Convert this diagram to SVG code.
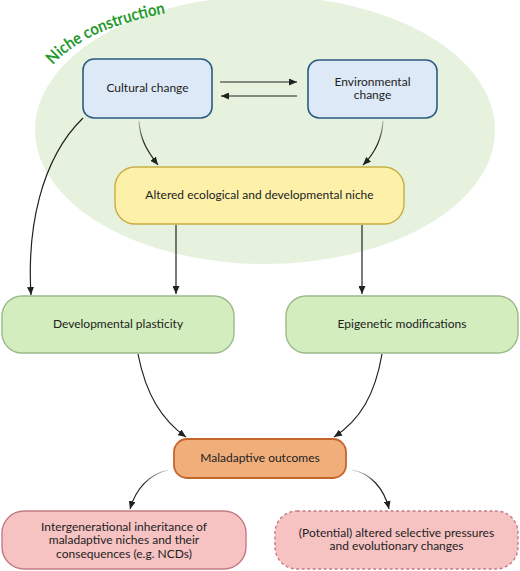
<svg xmlns="http://www.w3.org/2000/svg" width="520" height="571" viewBox="0 0 520 571">
<style>
text{font-family:Lato,"Open Sans","Liberation Sans",sans-serif;font-size:12px;fill:#222;text-anchor:middle}
.con{fill:none;stroke:#222;stroke-width:1.2}
.blue{fill:#dde9f7;stroke:#2d5b82;stroke-width:1.6}
.yel{fill:#fdf1aa;stroke:#c7ae44;stroke-width:1.4}
.grn{fill:#d3edbe;stroke:#9bb98a;stroke-width:1.4}
.org{fill:#f0ae7b;stroke:#c5652b;stroke-width:1.8}
.pnk{fill:#f7c2c2;stroke:#c27d83;stroke-width:1.4}
</style>
<defs>
<marker id="ah" viewBox="0 0 8 7" markerWidth="8" markerHeight="7" refX="8" refY="3.5" orient="auto" markerUnits="userSpaceOnUse">
<path d="M0,0 L8,3.5 L0,7 z" fill="#222"/>
</marker>
<linearGradient id="fadeL" x1="1" y1="0" x2="0" y2="1"><stop offset="0" stop-color="#ddd"/><stop offset="0.5" stop-color="#222"/></linearGradient>
<linearGradient id="fadeR" x1="0" y1="0" x2="1" y2="1"><stop offset="0" stop-color="#ddd"/><stop offset="0.5" stop-color="#222"/></linearGradient>
<linearGradient id="fadeD" x1="0" y1="0" x2="0" y2="1"><stop offset="0" stop-color="#bbb"/><stop offset="0.5" stop-color="#222"/></linearGradient>
<path id="arc" d="M53,65 Q85,28 172,12" fill="none"/>
</defs>
<rect width="520" height="571" fill="#fff"/>
<ellipse id="niche" cx="265" cy="130" rx="230" ry="134" fill="#e6f2de"/>
<text style="font-size:16.5px;font-weight:bold;fill:#239a2c;text-anchor:start"><textPath href="#arc" textLength="126" lengthAdjust="spacingAndGlyphs">Niche construction</textPath></text>
<g id="connectors">
<path class="con" d="M220,82 L297,82" marker-end="url(#ah)"/>
<path class="con" d="M297,96 L221,96" marker-end="url(#ah)"/>
<path class="con" d="M139,121 C140,140 148,152 158,165" style="stroke:url(#fadeD)" marker-end="url(#ah)"/>
<path class="con" d="M383,121 C382,140 375,153 363,165" style="stroke:url(#fadeD)" marker-end="url(#ah)"/>
<path class="con" d="M83,118 C40,160 27,230 31,295" marker-end="url(#ah)"/>
<path class="con" d="M176,225 L176,294" marker-end="url(#ah)"/>
<path class="con" d="M362,225 L362,294" marker-end="url(#ah)"/>
<path class="con" d="M138,354 C146,395 162,420 186,437" marker-end="url(#ah)"/>
<path class="con" d="M382,354 C375,395 360,420 334,437" marker-end="url(#ah)"/>
<path class="con" d="M168,470 C150,474 136,488 130,509" style="stroke:url(#fadeL)" marker-end="url(#ah)"/>
<path class="con" d="M352,470 C370,473 384,488 389,509" style="stroke:url(#fadeR)" marker-end="url(#ah)"/>
</g>
<g id="cultural"><rect class="blue" x="83" y="59" width="129" height="59" rx="11"/><text x="147.5" y="92">Cultural change</text></g>
<g id="environmental"><rect class="blue" x="308" y="60" width="129" height="58" rx="11"/><text x="372.5" y="85.5">Environmental</text><text x="372.5" y="99">change</text></g>
<g id="altered"><rect class="yel" x="115" y="167" width="289" height="57" rx="20"/><text x="259.5" y="199">Altered ecological and developmental niche</text></g>
<g id="devplast"><rect class="grn" x="2" y="296" width="232" height="57" rx="20"/><text x="118" y="328">Developmental plasticity</text></g>
<g id="epigenetic"><rect class="grn" x="286" y="296" width="232" height="57" rx="20"/><text x="402" y="328">Epigenetic modifications</text></g>
<g id="maladaptive"><rect class="org" x="174" y="439" width="172" height="39" rx="13"/><text x="260" y="462">Maladaptive outcomes</text></g>
<g id="intergen"><rect class="pnk" x="2" y="511" width="244" height="58" rx="22"/><text x="124" y="530.5">Intergenerational inheritance of</text><text x="124" y="544">maladaptive niches and their</text><text x="124" y="557.5">consequences (e.g. NCDs)</text></g>
<g id="potential"><rect class="pnk" x="275" y="511" width="243" height="58" rx="22" stroke-dasharray="3 2.5"/><text x="396.5" y="536.5">(Potential) altered selective pressures</text><text x="396.5" y="550">and evolutionary changes</text></g>
</svg>
